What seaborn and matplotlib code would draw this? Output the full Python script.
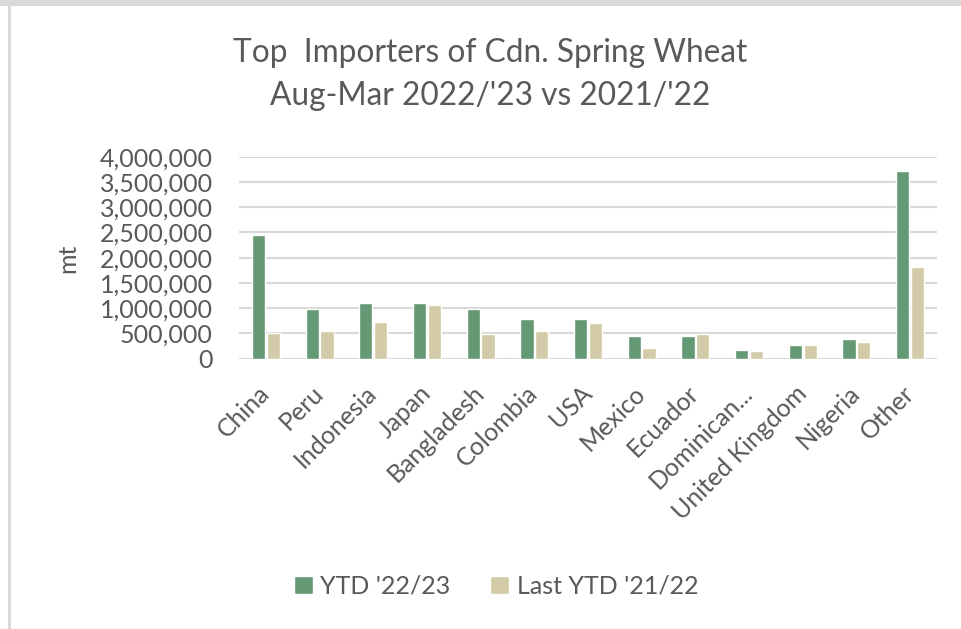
import matplotlib
matplotlib.use("Agg")
import matplotlib.pyplot as plt
import seaborn as sns
import pandas as pd
from matplotlib.patches import Rectangle
from matplotlib.ticker import FuncFormatter

countries = ["China", "Peru", "Indonesia", "Japan", "Bangladesh", "Colombia", "USA",
             "Mexico", "Ecuador", "Dominican...", "United Kingdom", "Nigeria", "Other"]
ytd_22_23 = [2450000, 977000, 1102000, 1102000, 977000, 792000, 792000,
             455000, 455000, 172000, 264000, 389000, 3716000]
ytd_21_22 = [515000, 548000, 733000, 1069000, 482000, 548000, 700000,
             205000, 482000, 145000, 264000, 330000, 1809000]
series_names = ["YTD '22/23", "Last YTD '21/22"]
yticks = [0, 500000, 1000000, 1500000, 2000000, 2500000, 3000000, 3500000, 4000000]

df = pd.DataFrame({
    "country": countries * 2,
    "value": ytd_22_23 + ytd_21_22,
    "series": [series_names[0]] * len(countries) + [series_names[1]] * len(countries),
})

sns.set_theme(style="white")
plt.rcParams["font.family"] = ["Lato", "DejaVu Sans"]

txt = "#595959"
grid = "#d9d9d9"
green = "#659874"
tan = "#d3caa8"

fig = plt.figure(figsize=(9.61, 6.29), dpi=100)
ax = fig.add_axes([239 / 961, 1 - 358.7 / 629, 698 / 961, 202 / 629])

sns.barplot(data=df, x="country", y="value", hue="series", order=countries,
            hue_order=series_names, palette=[green, tan], width=0.55, gap=0.1,
            saturation=1, ax=ax, legend=True)

ax.set_xlim(-0.5, len(countries) - 0.5)
ax.set_ylim(0, 4000000)
ax.set_yticks(yticks)
ax.yaxis.set_major_formatter(FuncFormatter(lambda v, p: f"{int(v):,}"))
ax.grid(axis="y", color=grid, linewidth=1.5)
ax.set_axisbelow(True)
for s in ["top", "right", "left", "bottom"]:
    ax.spines[s].set_visible(False)
ax.set_xlabel("")
ax.set_ylabel("")
ax.tick_params(axis="y", length=0, pad=19, labelsize=18, labelcolor=txt)
ax.tick_params(axis="x", length=0, pad=22, labelsize=18, labelcolor=txt)
for lab in ax.get_xticklabels():
    lab.set_rotation(45)
    lab.set_ha("right")
    lab.set_va("center")
    lab.set_rotation_mode("anchor")

handles, labels = ax.get_legend_handles_labels()
ax.get_legend().remove()
fig.legend(handles, labels, loc="center", bbox_to_anchor=(496 / 961, 1 - 586 / 629),
           ncol=2, frameon=False, fontsize=18, labelcolor=txt, handlelength=0.75,
           handleheight=0.75, handletextpad=0.3, columnspacing=1.6)

fig.text(490 / 961, 1 - 53 / 629, "Top  Importers of Cdn. Spring Wheat", ha="center",
         va="center", fontsize=22.8, color=txt)
fig.text(490 / 961, 1 - 96 / 629, "Aug-Mar 2022/'23 vs 2021/'22", ha="center",
         va="center", fontsize=22.8, color=txt)
fig.text(68 / 961, 1 - 258 / 629, "mt", rotation=90, ha="center", va="center",
         fontsize=18, color=txt)

# screenshot frame lines (top and left)
fig.add_artist(Rectangle((0, 1 - 6 / 629), 1, 6 / 629, transform=fig.transFigure,
                         facecolor=grid, edgecolor="none"))
fig.add_artist(Rectangle((8 / 961, 0), 3 / 961, 1 - 6 / 629, transform=fig.transFigure,
                         facecolor=grid, edgecolor="none"))

fig.savefig("out.png", dpi=100)
